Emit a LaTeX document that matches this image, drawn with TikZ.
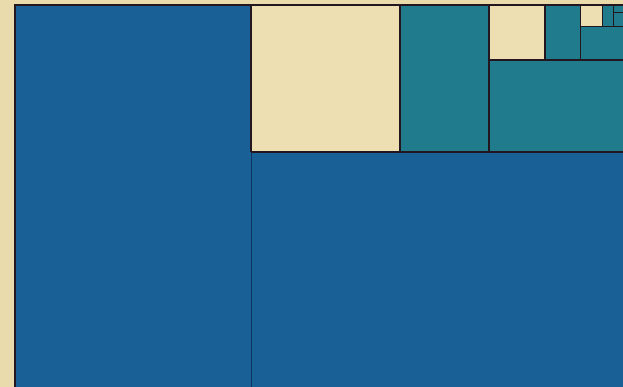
\documentclass[tikz,border=0pt]{standalone}
\definecolor{bgcream}{RGB}{234,219,172}
\definecolor{sqcream}{RGB}{238,223,178}
\definecolor{sqblue}{RGB}{24,96,150}
\definecolor{sqteal}{RGB}{32,124,140}
\definecolor{edge}{RGB}{35,22,30}
\definecolor{blueedge}{RGB}{14,52,96}
\begin{document}
\begin{tikzpicture}[x=1pt,y=-1pt,
  blk/.style={draw=edge,line width=1.1pt},
  thin/.style={draw=edge,line width=0.8pt}]
\useasboundingbox (0,0) rectangle (623,387);
\fill[bgcream] (0,0) rectangle (623,387);
% big blue regions
\fill[sqblue] (15,5) rectangle (623,387);
% top-right band
\fill[sqcream] (251,5) rectangle (400,152);
\fill[sqteal] (400,5) rectangle (623,152);
\fill[sqcream] (489,5) rectangle (545,60);
\fill[sqcream] (580,5) rectangle (602,26);
% lines
\draw[blk] (623,5) -- (15,5) -- (15,387);
\draw[blk] (251,5) -- (251,152);
\draw[draw=blueedge,line width=1pt] (251,152) -- (251,387);
\draw[blk] (251,152) -- (623,152);
\draw[blk] (400,5) -- (400,152);
\draw[blk] (489,5) -- (489,152);
\draw[blk] (489,60) -- (623,60);
\draw[blk] (545,5) -- (545,60);
\draw[thin] (580,5) -- (580,60);
\draw[thin] (580,26) -- (623,26);
\draw[thin] (602,5) -- (602,26);
\draw[thin] (613,5) -- (613,26);
\draw[thin] (613,12) -- (623,12);
\end{tikzpicture}
\end{document}
